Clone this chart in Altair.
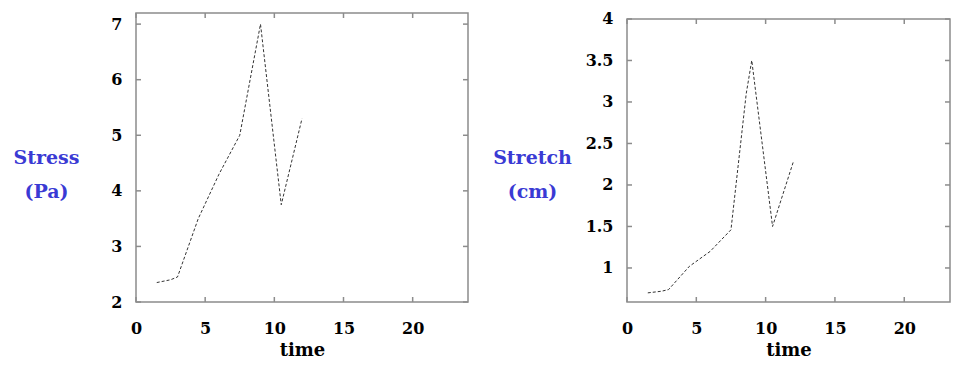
import altair as alt
import pandas as pd

# ---- data ----
stress_time = [1.5, 2.5, 3.0, 4.5, 6.0, 7.5, 9.0, 10.5, 12.0]
stress_pa = [2.35, 2.4, 2.45, 3.5, 4.3, 5.0, 7.0, 3.75, 5.3]

stretch_time = [1.5, 2.5, 3.0, 4.5, 6.0, 7.5, 8.6, 9.0, 10.5, 12.0]
stretch_cm = [0.7, 0.72, 0.74, 1.02, 1.2, 1.46, 3.1, 3.5, 1.5, 2.28]

x_ticks = [0, 5, 10, 15, 20]
stress_ticks = [2, 3, 4, 5, 6, 7]
stretch_ticks = [1, 1.5, 2, 2.5, 3, 3.5, 4]

FONT = "DejaVu Serif"
BLUE = "#3a3ad4"
TICK = "#8c8c8c"
FRAME = "#8c8c8c"


def panel(t, v, yticks, xdom, ydom, ytitle, w, h, top, tx, ty):
    df = pd.DataFrame({"time": t, "value": v})
    xs = alt.Scale(domain=xdom, nice=False, zero=False)
    ys = alt.Scale(domain=ydom, nice=False, zero=False)
    line = alt.Chart(df).mark_line(
        color="#333333", strokeWidth=1, strokeDash=[3, 2]
    ).encode(
        x=alt.X("time:Q", scale=xs, axis=alt.Axis(
            values=x_ticks, title="time", titleFont=FONT, titleFontSize=18,
            titleFontWeight="bold", titlePadding=5, labelPadding=18,
            labelFlush=False)),
        y=alt.Y("value:Q", scale=ys, axis=alt.Axis(
            values=yticks, format="~g", title=ytitle, titleAngle=0,
            titleAlign="center", titleBaseline="alphabetic",
            titleX=tx, titleY=ty, titleColor=BLUE, titleFont=FONT,
            titleFontSize=19, titleFontWeight="bold", titleLineHeight=34,
            labelPadding=14)),
    )
    xt = pd.DataFrame({"tx": x_ticks})
    yt = pd.DataFrame({"ty": yticks})
    frame = alt.Chart(pd.DataFrame({"f": [0]})).mark_rect(
        fillOpacity=0, stroke=FRAME, strokeWidth=1.5
    ).encode(x=alt.value(0), x2=alt.value(w), y=alt.value(top), y2=alt.value(h))
    topt = alt.Chart(xt).mark_rule(color=TICK, strokeWidth=1.5).encode(
        x=alt.X("tx:Q", scale=xs), y=alt.value(top), y2=alt.value(top + 5))
    bot = alt.Chart(xt).mark_rule(color=TICK, strokeWidth=1.5).encode(
        x=alt.X("tx:Q", scale=xs), y=alt.value(h - 5), y2=alt.value(h))
    lft = alt.Chart(yt).mark_rule(color=TICK, strokeWidth=1.5).encode(
        y=alt.Y("ty:Q", scale=ys), x=alt.value(0), x2=alt.value(5))
    rgt = alt.Chart(yt).mark_rule(color=TICK, strokeWidth=1.5).encode(
        y=alt.Y("ty:Q", scale=ys), x=alt.value(w - 5), x2=alt.value(w))
    return alt.layer(frame, topt, bot, lft, rgt, line).properties(width=w, height=h)


left = panel(stress_time, stress_pa, stress_ticks, [0, 24], [2, 7.2],
             ["Stress", "(Pa)"], 332, 289, 0, -90, 150)
right = panel(stretch_time, stretch_cm, stretch_ticks, [0, 23.3], [0.59, 4.072],
              ["Stretch", "(cm)"], 323, 289, 6, -95, 150)

chart = alt.hconcat(left, right, spacing=23).properties(
    padding={"left": 13, "top": 10, "right": 0, "bottom": 0},
    background="white",
).configure_view(
    stroke=None, strokeWidth=0
).configure_axis(
    domain=False, ticks=False, grid=False,
    labelFont=FONT, labelFontSize=16, labelFontWeight="bold",
    labelColor="black", titleColor="black",
)

chart.save("out.html", embed_options={"renderer": "svg", "actions": False})
